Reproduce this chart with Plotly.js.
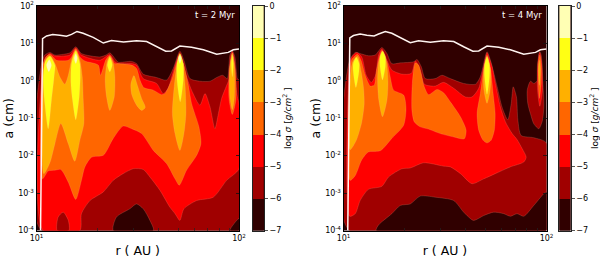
<!DOCTYPE html>
<html><head><meta charset="utf-8">
<script src="https://cdn.plot.ly/plotly-3.0.1.min.js"></script>
<style>html,body{margin:0;padding:0;background:#fff}#c{width:600px;height:258px}</style>
</head><body><div id="c"></div>
<script>
// Contour outlines: pairs of [log10(r)-1, log10(a)]
const levelValues = [-7,-6,-5,-4,-3,-2,-1,0];
const bandColors = ['#300000','#a00000','#ff0000','#ff6600','#ffb000','#ffff14','#ffffb4'];
const levelLabels = ['\u22127','\u22126','\u22125','\u22124','\u22123','\u22122','\u22121','0'];
const rTicks = [10,100];
const rTickLabels = ['10<sup>1</sup>','10<sup>2</sup>'];
const rMinorTicks = [20,30,40,50,60,70,80,90];
const aTicks = [1e-4,1e-3,1e-2,1e-1,1,10,100];
const aTickLabels = ['10<sup>-4</sup>','10<sup>-3</sup>','10<sup>-2</sup>','10<sup>-1</sup>','10<sup>0</sup>','10<sup>1</sup>','10<sup>2</sup>'];

// ---- t = 2 Myr ----
const snowA = [[.02,-4],[.03,1.13],[.05,1.2],[.08,1.24],[.115,1.22],[.148,1.19],[.173,1.24],[.2,1.32],[.23,1.27],[.28,1.16],[.33,1.01],[.37,1.08],[.43,1.04],[.494,1.07],[.544,1.05],[.593,.91],[.638,.79],[.667,.8],[.708,.93],[.766,.9],[.824,.83],[.89,.71],[.947,.76],[.972,.83],[1,.85]];
const a6main = [[.025,-4],[.025,.464],[.041,.69],[.066,.76],[.091,.69],[.132,.71],[.165,.75],[.194,.91],[.222,.73],[.313,.64],[.343,.69],[.362,.75],[.387,.6],[.404,.5],[.47,.52],[.494,.46],[.527,.18],[.593,.09],[.642,.02],[.675,.33],[.708,.79],[.728,.55],[.758,.06],[.807,-.01],[.857,-.01],[.89,.09],[.919,.15],[.942,.06],[.955,.69],[.967,.8],[.98,.64],[.992,.06],[1,.02],[1,-4]];
const a7islandMid = [[.379,-4],[.395,-3.64],[.461,-3.42],[.494,-3.29],[.527,-3.42],[.56,-3.73],[.577,-4]];
const a7islandCorner = [[.955,-4],[.975,-3.82],[1,-3.68],[1,-4]];
const a5main = [[.033,-4],[.033,.42],[.045,.62],[.066,.73],[.091,.66],[.132,.66],[.165,.69],[.194,.88],[.222,.69],[.313,.55],[.362,.7],[.387,.51],[.404,.46],[.47,.46],[.494,.42],[.527,.06],[.593,-.07],[.626,-.34],[.65,-.2],[.675,.24],[.708,.74],[.733,.24],[.741,.11],[.766,-.25],[.807,-.65],[.832,-.34],[.857,-.7],[.881,-1.28],[.898,-.88],[.914,-.47],[.939,-.12],[.955,.11],[.96,.69],[.967,.79],[.975,.64],[.985,-.16],[.992,-.43],[1,-.61],[1,-2.35],[.939,-2.66],[.873,-3.11],[.791,-3.2],[.728,-3.42],[.708,-3.73],[.684,-3.55],[.659,-3.38],[.61,-2.93],[.56,-2.57],[.527,-2.37],[.478,-2.35],[.428,-2.48],[.379,-2.66],[.33,-2.97],[.264,-3.2],[.222,-3.55],[.214,-4]];
const a6islandLeft = [[.102,-4],[.107,-3.64],[.132,-3.51],[.157,-3.73],[.16,-4]];
const a4main = [[.03,-2.62],[.058,-2.41],[.091,-2.39],[.12,-2.37],[.157,-2.71],[.194,-3.17],[.222,-2.66],[.239,-2.3],[.272,-2.04],[.33,-1.99],[.379,-1.54],[.428,-1.21],[.47,-1.28],[.519,-1.41],[.577,-1.86],[.642,-2.21],[.684,-2.62],[.705,-2.79],[.741,-2.39],[.791,-1.99],[.812,-1.68],[.802,-1.23],[.766,-.61],[.75,-.12],[.728,.42],[.708,.71],[.689,.42],[.667,.02],[.634,-.34],[.618,-.37],[.577,-.25],[.53,-.18],[.511,.02],[.494,.33],[.47,.42],[.404,.46],[.387,.46],[.362,.68],[.343,.57],[.316,.15],[.305,.42],[.239,.53],[.214,.64],[.194,.86],[.173,.64],[.157,.55],[.099,.55],[.082,.64],[.066,.71],[.046,.63],[.03,.38]];
const a4peak5 = [[.967,-.9],[.985,-.5],[.982,.3],[.967,.73],[.952,.3],[.951,-.5]];
const a3main = [[.036,-2.48],[.066,-2.19],[.091,-1.68],[.12,-1.14],[.157,-1.68],[.189,-2.15],[.214,-1.59],[.234,-1.14],[.231,-.52],[.226,.11],[.214,.55],[.194,.82],[.175,.6],[.157,.15],[.14,-.09],[.115,.11],[.091,.46],[.066,.67],[.046,.57],[.033,.2]];
const a3peak3 = [[.362,-.79],[.384,-.43],[.387,.11],[.379,.46],[.362,.66],[.349,.51],[.339,.02],[.346,-.43]];
const a3blob = [[.481,.14],[.466,-.09],[.471,-.38],[.494,-.65],[.519,-.79],[.537,-.71],[.519,-.47],[.498,-.12]];
const a3peak4 = [[.708,-1.86],[.728,-1.41],[.738,-.87],[.733,-.07],[.722,.46],[.708,.68],[.695,.46],[.68,-.16],[.671,-.87],[.684,-1.41]];
const a3peak5 = [[.967,-.77],[.977,-.43],[.977,.37],[.967,.75],[.955,.37],[.955,-.43]];
const a2peak1 = [[.058,-1.28],[.074,-.52],[.087,.11],[.091,.42],[.066,.66],[.043,.51],[.033,.02],[.041,-.61]];
const a2peak2 = [[.194,-1.04],[.211,-.43],[.216,.11],[.214,.46],[.194,.8],[.173,.46],[.17,-.07],[.178,-.52]];
const a2peak3 = [[.362,.24],[.374,.42],[.362,.63],[.35,.42]];
const a2peak4 = [[.71,-.56],[.725,.02],[.725,.46],[.708,.73],[.694,.46],[.694,.02]];
const a2peak5 = [[.967,.11],[.972,.46],[.967,.69],[.962,.46]];
const a1peak1 = [[.061,.24],[.074,.42],[.063,.57],[.049,.42]];
const a1peak2 = [[.194,.46],[.202,.6],[.194,.73],[.186,.6]];
const a1peak4 = [[.708,.46],[.715,.6],[.708,.69],[.701,.6]];

// ---- t = 4 Myr ----
const snowB = [[.021,-4],[.031,1.15],[.049,1.21],[.082,1.25],[.115,1.22],[.151,1.2],[.173,1.25],[.206,1.32],[.238,1.27],[.28,1.16],[.329,1.02],[.37,1.07],[.428,1.03],[.493,1.07],[.543,1.05],[.592,.91],[.637,.79],[.666,.8],[.707,.93],[.765,.9],[.822,.83],[.888,.71],[.946,.76],[.97,.83],[1,.85]];
const b6main = [[.028,-4],[.028,.51],[.058,.76],[.082,.73],[.123,.67],[.156,.69],[.189,.89],[.214,.73],[.238,.46],[.28,.48],[.345,.51],[.362,.57],[.383,.38],[.403,.06],[.452,.06],[.485,.15],[.526,.06],[.592,-.07],[.65,-.09],[.674,.11],[.707,.78],[.724,.55],[.757,-.16],[.781,-.7],[.809,-1.04],[.826,-.61],[.836,-.16],[.852,-.43],[.859,-1.05],[.875,-1.46],[.9375,-1.52],[1,-1.66],[1,-4]];
const b6peak5 = [[.905,-.25],[.921,-.01],[.9375,-.07],[.957,.02],[.961,.69],[.967,.78],[.974,.69],[.982,-.02],[.987,-.68],[.979,-1.08],[.962,-1.28],[.9375,-1.15],[.921,-.88],[.908,-.61]];
const b7island = [[.161,-4],[.173,-3.85],[.238,-3.55],[.28,-3.33],[.329,-3.29],[.378,-3.08],[.452,-3.11],[.543,-3.2],[.592,-3.51],[.641,-3.73],[.691,-3.6],[.74,-3.51],[.789,-3.55],[.822,-3.62],[.855,-3.55],[.888,-3.62],[.9375,-3.33],[1,-2.97],[1,-4]];
const b5main = [[.03,-4],[.03,-3.62],[.058,-3.55],[.082,-3.2],[.123,-2.9],[.189,-2.82],[.222,-2.57],[.288,-2.35],[.329,-2.33],[.395,-2.19],[.493,-2.28],[.526,-2.3],[.576,-2.48],[.633,-2.75],[.691,-2.62],[.748,-2.48],[.822,-2.3],[.888,-2.17],[.9,-2.04],[.88,-1.81],[.855,-1.57],[.831,-1.41],[.798,-1.1],[.773,-.7],[.748,-.07],[.732,.38],[.715,.66],[.707,.75],[.691,.38],[.666,-.2],[.633,-.43],[.6,-.43],[.543,-.2],[.493,-.04],[.452,-.14],[.411,-.12],[.395,-.07],[.378,.29],[.354,.53],[.334,.2],[.288,.18],[.238,.29],[.214,.55],[.189,.85],[.173,.69],[.158,.15],[.137,-.04],[.112,.15],[.09,.64],[.066,.76],[.041,.64],[.03,.42]].slice(1);
const b5peak5 = [[.967,-.68],[.98,-.25],[.977,.46],[.967,.76],[.956,.46],[.956,-.25]];
const b4blobA = [[.033,-2.66],[.058,-2.53],[.09,-2.11],[.123,-1.9],[.181,-1.87],[.238,-1.54],[.296,-1.19],[.308,-.74],[.296,-.38],[.247,-.25],[.23,.11],[.217,.46],[.202,.71],[.189,.82],[.176,.63],[.161,.24],[.151,-.12],[.132,-.14],[.107,.15],[.087,.54],[.069,.71],[.041,.57],[.031,.33]];
const b4blobB = [[.354,.48],[.339,-.07],[.337,-.79],[.349,-1.1],[.378,-1.23],[.419,-1.29],[.477,-1.41],[.543,-1.5],[.595,-1.55],[.604,-1.32],[.576,-.96],[.526,-.56],[.493,-.32],[.461,-.23],[.419,-.37],[.398,-.16],[.382,.2],[.37,.42]];
const b4peak4 = [[.707,-1.66],[.727,-1.59],[.743,-1.32],[.747,-.87],[.737,-.34],[.724,.33],[.707,.69],[.691,.33],[.674,-.34],[.658,-.87],[.666,-1.32],[.688,-1.59]];
const b4peak5 = [[.965,-.47],[.974,-.07],[.974,.46],[.967,.69],[.959,.46],[.959,-.07]];
const b3blob = [[.033,-1.84],[.063,-1.59],[.09,-1.1],[.102,-.61],[.099,-.21],[.087,.24],[.069,.66],[.046,.51],[.033,.06]];
const b3peak2 = [[.192,-.96],[.214,-.52],[.219,-.04],[.211,.51],[.192,.8],[.174,.51],[.168,.02],[.174,-.52]];
const b3peak4 = [[.707,-.6],[.722,-.25],[.725,.29],[.707,.66],[.691,.29],[.692,-.25]];
const b3peak5 = [[.965,-.12],[.97,.29],[.965,.55],[.96,.29]];
const b2peak1 = [[.061,-.18],[.076,.24],[.077,.46],[.063,.63],[.048,.46],[.048,.24]];
const b2peak2 = [[.192,.02],[.206,.38],[.206,.64],[.192,.79],[.18,.64],[.18,.38]];
const b2peak4 = [[.707,-.36],[.719,.11],[.719,.42],[.707,.64],[.695,.42],[.695,.11]];

// draw order: index into bandColors, outline
const layersA = [[1,a6main],[0,a7islandMid],[0,a7islandCorner],[2,a5main],[1,a6islandLeft],[3,a4main],[3,a4peak5],[4,a3main],[4,a3peak3],[4,a3blob],[4,a3peak4],[4,a3peak5],[5,a2peak1],[5,a2peak2],[5,a2peak3],[5,a2peak4],[5,a2peak5],[6,a1peak1],[6,a1peak2],[6,a1peak4]];
const layersB = [[1,b6main],[1,b6peak5],[0,b7island],[2,b5main],[2,b5peak5],[3,b4blobA],[3,b4blobB],[3,b4peak4],[3,b4peak5],[4,b3blob],[4,b3peak2],[4,b3peak4],[4,b3peak5],[5,b2peak1],[5,b2peak2],[5,b2peak4]];

const toR = p => Math.pow(10, 1 + p[0]);
const toA = p => Math.pow(10, p[1]);
const traces = [];
function panel(layers, snow, xa, ya){
  layers.forEach(([b, pts]) => {
    const closed = pts.concat([pts[0]]);
    traces.push({type:'scatter', mode:'lines', x:closed.map(toR), y:closed.map(toA), xaxis:xa, yaxis:ya,
      fill:'toself', fillcolor:bandColors[b], line:{width:0.4, color:'rgba(255,190,160,0.45)', shape:'spline', smoothing:0.7}, hoverinfo:'skip', showlegend:false});
  });
  traces.push({type:'scatter', mode:'lines', x:snow.map(toR), y:snow.map(toA), xaxis:xa, yaxis:ya,
    line:{color:'#fff4f0', width:1.5}, hoverinfo:'skip', showlegend:false});
}
panel(layersA, snowA, 'x', 'y');
panel(layersB, snowB, 'x2', 'y2');

// colour bars: one cell per band
const bandMids = bandColors.map((c,i) => levelValues[i] + 0.5);
const barScale = [];
bandColors.forEach((c,i) => { barScale.push([i/7, c]); barScale.push([(i+1)/7, c]); });
function bar(xa, ya){
  traces.push({type:'heatmap', x:[0], y:bandMids, z:bandMids.map(v => [v]), zmin:-7, zmax:0,
    colorscale:barScale, showscale:false, xaxis:xa, yaxis:ya, hoverinfo:'skip'});
}
bar('x3','y3'); bar('x4','y4');

const W = 600, H = 258;
const plotTop = 6, plotBottom = 230.5;
const yDom = [1 - plotBottom/H, 1 - plotTop/H];
const font = {family:'"DejaVu Sans", sans-serif', color:'#000'};
const logX = (l, r, yAnchor) => ({type:'log', domain:[l/W, r/W], range:[1,2], anchor:yAnchor, tickmode:'array', tickvals:rTicks, ticktext:rTickLabels,
  ticks:'inside', ticklen:3.5, tickwidth:0.8, tickcolor:'#111', showline:true, linecolor:'#000', linewidth:1, mirror:'allticks',
  minor:{ticks:'inside', ticklen:2.5, tickwidth:0.7, tickcolor:'#222', tickmode:'array', tickvals:rMinorTicks, showgrid:false},
  showgrid:false, zeroline:false, tickfont:{...font, size:8}, title:{text:'r ( AU )', font:{...font, size:12.5}, standoff:4}});
const logY = (xAnchor) => ({type:'log', domain:yDom, range:[-4,2], anchor:xAnchor, tickmode:'array', tickvals:aTicks, ticktext:aTickLabels,
  ticks:'inside', ticklen:3.5, tickwidth:0.8, tickcolor:'#111', showline:true, linecolor:'#000', linewidth:1, mirror:'allticks',
  showgrid:false, zeroline:false, tickfont:{...font, size:8}, title:{text:'a (cm)', font:{...font, size:12.5}, standoff:1}});
const barX = (l, r, a) => ({domain:[l/W, r/W], anchor:a, range:[-0.5,0.5], showticklabels:false, ticks:'', showgrid:false, zeroline:false, showline:true, linecolor:'#222', linewidth:1, mirror:true});
const barY = (a) => ({domain:yDom, anchor:a, side:'right', range:[-7,0], tickmode:'array', tickvals:levelValues, ticktext:levelLabels,
  ticks:'outside', ticklen:3, tickwidth:0.7, tickcolor:'#111', showgrid:false, zeroline:false, showline:true, linecolor:'#222', linewidth:1, mirror:true, tickfont:{...font, size:8}});

const cbarLabel = 'log <i>\u03c3</i> [<i>g/cm</i><sup>2</sup> ]';
const note = (x, y, text, size, color, angle) => ({xref:'paper', yref:'paper', x:x/W, y:1-y/H, text, showarrow:false, xanchor:'center', yanchor:'middle', textangle:angle||0, font:{...font, size, color}});

const layout = {
  width:W, height:H, margin:{l:0,r:0,t:0,b:0}, paper_bgcolor:'#fff', plot_bgcolor:bandColors[0], showlegend:false,
  xaxis:logX(36.5,239,'y'), yaxis:logY('x'),
  xaxis2:logX(343.5,546.5,'y2'), yaxis2:logY('x2'),
  xaxis3:barX(252.7,264,'y3'), yaxis3:barY('x3'),
  xaxis4:barX(559.3,570.7,'y4'), yaxis4:barY('x4'),
  annotations:[
    note(215,15,'t = 2 Myr',8.5,'#fff'), note(522,15,'t = 4 Myr',8.5,'#fff'),
    note(287,118,cbarLabel,9,'#000',-90), note(594,118,cbarLabel,9,'#000',-90)
  ]
};
Plotly.newPlot('c', traces, layout, {staticPlot:true, displayModeBar:false});
</script></body></html>
